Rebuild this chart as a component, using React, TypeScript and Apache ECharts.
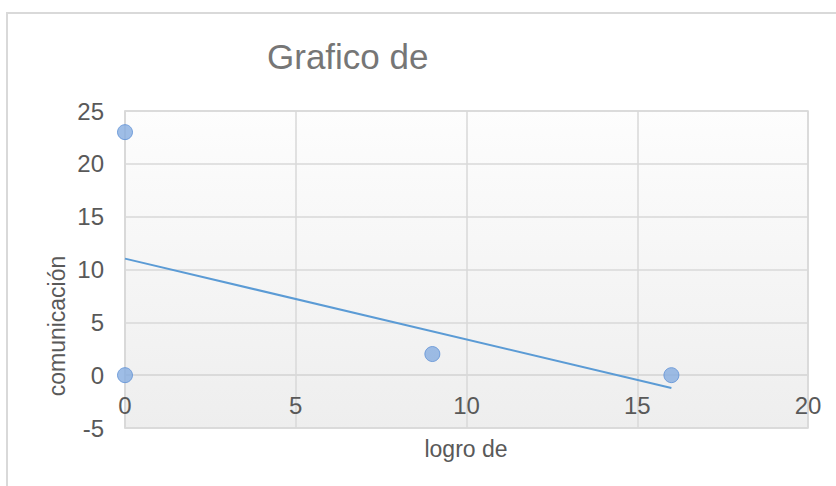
import React, { useEffect, useRef } from "react";
import * as echarts from "echarts";

const titleText = "Grafico de";
const xAxisTitle = "logro de";
const yAxisTitle = "comunicación";
const logroValues = [0, 0, 9, 16];
const comunicacionValues = [23, 0, 2, 0];
const xMin = 0, xMax = 20, xStep = 5;
const yMin = -5, yMax = 25, yStep = 5;

function trend(xs: number[], ys: number[]) {
  const n = xs.length;
  const mx = xs.reduce((a, b) => a + b, 0) / n;
  const my = ys.reduce((a, b) => a + b, 0) / n;
  let sxy = 0, sxx = 0;
  for (let i = 0; i < n; i++) {
    sxy += (xs[i] - mx) * (ys[i] - my);
    sxx += (xs[i] - mx) * (xs[i] - mx);
  }
  const b = sxy / sxx;
  const a = my - b * mx;
  const lo = Math.min(...xs), hi = Math.max(...xs);
  return [[lo, a + b * lo], [hi, a + b * hi]];
}

const W = 836, H = 486;
const G = { left: 125, right: 28, top: 111, bottom: 58 };

export default function App() {
  const ref = useRef<HTMLDivElement>(null);
  useEffect(() => {
    document.body.style.margin = "0";
    if (!ref.current) return;
    const chart = echarts.init(ref.current, null, { renderer: "svg" });
    const font = "'Liberation Sans', Arial, sans-serif";
    const points = logroValues.map((x, i) => [x, comunicacionValues[i]]);
    const plotH = H - G.top - G.bottom;
    const zeroOffset = -plotH * (0 - yMin) / (yMax - yMin);
    chart.setOption({
      animation: false,
      backgroundColor: "#ffffff",
      title: {
        text: titleText,
        left: 262,
        top: 34,
        textStyle: { fontFamily: font, fontSize: 35, fontWeight: "normal", color: "#767676" },
      },
      grid: {
        ...G,
        show: true,
        borderColor: "#d9d9d9",
        borderWidth: 1.5,
        backgroundColor: new echarts.graphic.LinearGradient(0, 0, 0, 1, [
          { offset: 0, color: "#fdfdfd" },
          { offset: 1, color: "#eeeeee" },
        ]),
      },
      xAxis: {
        type: "value",
        min: xMin,
        max: xMax,
        interval: xStep,
        position: "bottom",
        offset: zeroOffset,
        axisLine: { show: true, onZero: false, lineStyle: { color: "#d9d9d9", width: 1.5 } },
        axisTick: { show: false },
        axisLabel: { fontFamily: font, fontSize: 24, color: "#595959", margin: 18 },
        splitLine: { show: true, lineStyle: { color: "#d9d9d9", width: 1.5 } },
      },
      yAxis: {
        type: "value",
        min: yMin,
        max: yMax,
        interval: yStep,
        axisLine: { show: true, onZero: false, lineStyle: { color: "#d9d9d9", width: 1.5 } },
        axisTick: { show: false },
        axisLabel: { fontFamily: font, fontSize: 24, color: "#595959", margin: 21 },
        splitLine: { show: true, lineStyle: { color: "#d9d9d9", width: 1.5 } },
      },
      graphic: [
        {
          type: "rect",
          shape: { x: 7, y: 13, width: 1200, height: 1000 },
          style: { fill: "none", stroke: "#d9d9d9", lineWidth: 2 },
          silent: true,
        },
        {
          type: "text",
          x: 57,
          y: 326,
          rotation: Math.PI / 2,
          style: {
            text: yAxisTitle,
            font: `23px ${font}`,
            fill: "#595959",
            align: "center",
            verticalAlign: "middle",
          },
        },
        {
          type: "text",
          x: 466,
          y: 449,
          style: {
            text: xAxisTitle,
            font: `23px ${font}`,
            fill: "#595959",
            align: "center",
            verticalAlign: "middle",
          },
        },
      ],
      series: [
        {
          type: "line",
          data: trend(logroValues, comunicacionValues),
          showSymbol: false,
          lineStyle: { color: "#5b9bd5", width: 2 },
          z: 2,
        },
        {
          type: "scatter",
          data: points,
          symbolSize: 15,
          itemStyle: { color: "#86ade0", borderColor: "#5f91d6", borderWidth: 1 },
          z: 3,
        },
      ],
    });
    return () => chart.dispose();
  }, []);
  return <div ref={ref} style={{ width: W, height: H }} />;
}
